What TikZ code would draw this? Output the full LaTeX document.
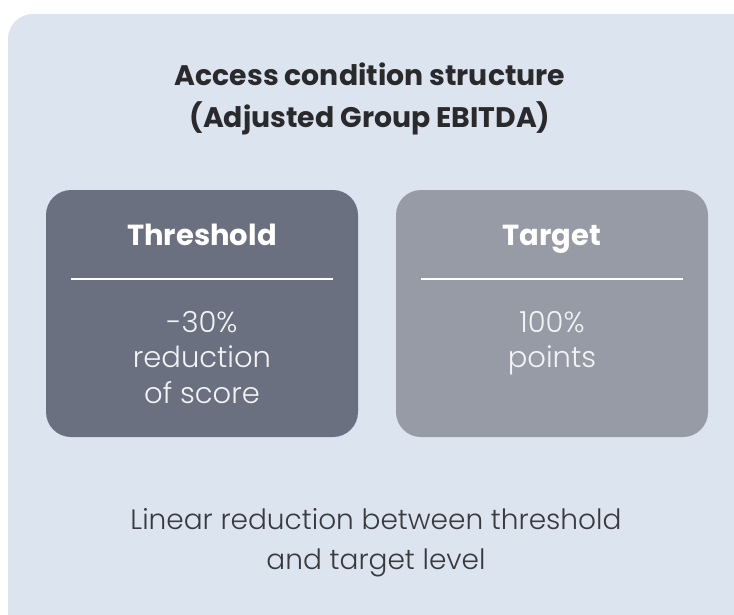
\documentclass[tikz,border=0pt]{standalone}
\usepackage{fontspec}
\setmainfont{Poppins}
\newfontfamily\lightfont{Poppins Light}
\definecolor{bgpanel}{HTML}{DCE4EF}
\definecolor{darkbox}{HTML}{6B7080}
\definecolor{lightbox}{HTML}{979BA5}
\definecolor{titletext}{HTML}{2A2A2C}
\definecolor{bodytext}{HTML}{3A3A3E}
\definecolor{boxbody}{HTML}{F2F3F5}
\tikzset{
  card/.style={rounded corners=25pt, inner sep=0pt},
  cardhead/.style={text=white, font=\fontsize{29}{34}\selectfont\bfseries, inner sep=0pt, anchor=base},
  cardbody/.style={text=boxbody, font=\lightfont\fontsize{29}{35.5}\selectfont, align=center, inner sep=0pt, anchor=base},
  rule/.style={draw=white, line width=1.2pt},
}
\begin{document}
\begin{tikzpicture}[x=1pt,y=-1pt]
\useasboundingbox (0,0) rectangle (734,614);
\begin{scope}
\clip (0,0) rectangle (734,614);
\fill[bgpanel, rounded corners=25pt] (8,14) rectangle (760,650);
\end{scope}
\node[align=center, text=titletext, font=\fontsize{28.3}{42}\selectfont\bfseries, inner sep=0pt, anchor=base] (title) at (370,127) {Access condition structure\\(Adjusted Group EBITDA)};
% threshold card
\fill[darkbox, card] (46,190) rectangle (358,437);
\node[cardhead] (thhead) at (202,245) {Threshold};
\coordinate (thl) at (71,279);
\coordinate (thr) at (333,279);
\draw[rule] (thl) -- (thr);
\node[cardbody] (thbody) at (202,403) {-30\%\\reduction\\of score};
% target card
\fill[lightbox, card] (396,190) rectangle (708,437);
\node[cardhead] (tghead) at (552,245) {Target};
\coordinate (tgl) at (421,279);
\coordinate (tgr) at (683,279);
\draw[rule] (tgl) -- (tgr);
\node[cardbody] (tgbody) at (552,367.5) {100\%\\points};
% bottom text
\node[align=center, text=bodytext, font=\lightfont\fontsize{28}{40}\selectfont, inner sep=0pt, anchor=base] (note) at (376,569) {Linear reduction between threshold\\and target level};
\end{tikzpicture}
\end{document}
